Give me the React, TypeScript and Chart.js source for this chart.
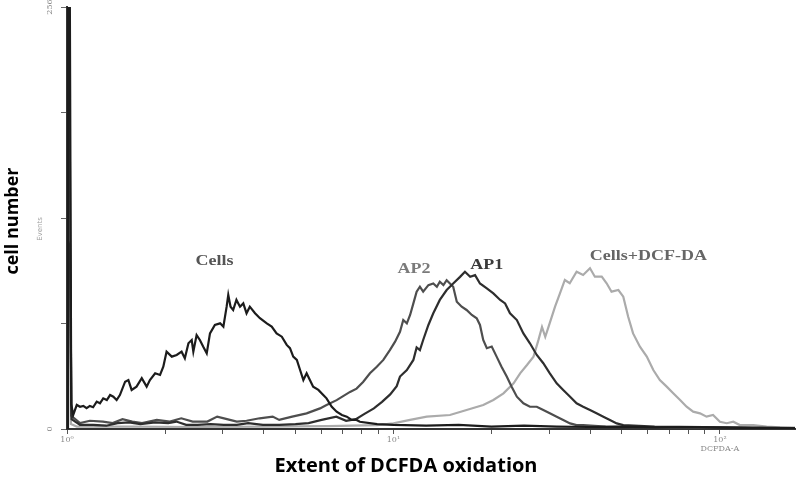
import React, { useEffect, useRef } from "react";
import { Chart, registerables } from "chart.js";

Chart.register(...registerables);

// x values are log10 of DCFDA fluorescence (decades), y values are cell counts
const cellsData: [number, number][] = [
  [0, 0], [0.003, 300], [0.008, 300], [0.013, 15], [0.019, 8.5], [0.03, 14.6], [0.04, 13.5], [0.05, 14], [0.06, 12.6],
  [0.07, 14], [0.08, 13.2], [0.091, 16.6], [0.101, 15.6], [0.111, 18.6], [0.122, 17.6], [0.132, 20.6], [0.142, 19.6],
  [0.152, 17.6], [0.162, 20.6], [0.178, 28.7], [0.188, 29.7], [0.198, 23.7], [0.213, 25.7], [0.229, 30.8], [0.244, 25.7],
  [0.254, 29.7], [0.27, 33.8], [0.285, 32.8], [0.295, 37.8], [0.305, 46.9], [0.321, 43.9], [0.336, 44.9], [0.351, 46.9],
  [0.361, 42.9], [0.372, 52], [0.382, 54], [0.387, 46.9], [0.397, 57], [0.407, 54], [0.417, 50], [0.428, 45.9],
  [0.438, 58], [0.453, 63.1], [0.469, 64.1], [0.479, 62.1], [0.489, 74.2], [0.494, 81.3], [0.501, 74.2], [0.509, 72.2],
  [0.519, 78.3], [0.53, 74.2], [0.54, 76.2], [0.55, 70.2], [0.56, 74.2], [0.576, 70.2], [0.591, 67.2], [0.612, 64.1],
  [0.627, 62.1], [0.642, 58], [0.658, 56], [0.673, 51], [0.683, 49], [0.693, 43.9], [0.704, 41.9], [0.714, 35.8],
  [0.724, 29.7], [0.734, 33.8], [0.744, 29.7], [0.754, 25.7], [0.77, 23.7], [0.785, 20.6], [0.795, 18.6], [0.811, 13.5],
  [0.826, 10.5], [0.842, 8.5], [0.857, 7.5], [0.872, 5.5], [0.887, 5.5], [0.897, 4.4], [0.95, 3], [1.0, 2.5], [1.1, 2],
  [1.2, 2.5], [1.3, 1.5], [1.4, 2], [1.5, 1.5], [1.6, 1.2], [1.7, 1.5], [1.8, 1], [1.9, 1.2], [2.0, 0.8], [2.1, 0.6], [2.23, 0.5],
];

const ap1Data: [number, number][] = [
  [0, 0], [0.002, 115], [0.009, 110], [0.014, 6], [0.04, 2.5], [0.08, 2.5], [0.12, 2], [0.155, 3.6], [0.19, 4], [0.225, 3],
  [0.27, 4], [0.31, 3.6], [0.335, 4.5], [0.365, 2.5], [0.4, 2.5], [0.44, 3], [0.48, 2.5], [0.52, 2.5], [0.555, 3.6],
  [0.6, 2.5], [0.65, 2.5], [0.7, 3], [0.74, 3.6], [0.78, 5.5], [0.825, 7.5], [0.855, 5], [0.885, 6], [0.91, 9],
  [0.94, 12.5], [0.965, 16.5], [0.99, 21], [1.01, 26], [1.02, 31.8], [1.041, 35.8], [1.061, 41.9], [1.071, 49.5],
  [1.081, 47.9], [1.091, 54], [1.107, 63.1], [1.122, 70.2], [1.142, 78.3], [1.163, 84.3], [1.183, 88.3], [1.204, 92.3],
  [1.219, 95.4], [1.235, 92.3], [1.25, 93.3], [1.265, 88.3], [1.286, 85.3], [1.306, 82.3], [1.327, 78.3], [1.342, 76.2],
  [1.357, 70.2], [1.378, 66.1], [1.398, 58], [1.418, 52], [1.439, 44.9], [1.459, 39.9], [1.479, 33.8], [1.5, 27.7],
  [1.52, 23.7], [1.541, 19.6], [1.561, 15.6], [1.581, 13.5], [1.602, 11.5], [1.622, 9.5], [1.643, 7.5], [1.663, 5.5],
  [1.684, 3.4], [1.704, 2.4], [1.8, 1.5], [1.95, 1.2], [2.1, 0.8], [2.23, 0.6],
];

const ap2Data: [number, number][] = [
  [0, 0], [0.002, 210], [0.008, 200], [0.013, 8], [0.04, 3.6], [0.07, 5], [0.11, 4.5], [0.14, 3.6], [0.17, 6], [0.2, 4.5],
  [0.23, 3.6], [0.275, 5.5], [0.315, 4.5], [0.35, 6.5], [0.385, 4.5], [0.43, 4.5], [0.46, 7.5], [0.49, 6], [0.52, 4.5],
  [0.55, 5], [0.59, 6.5], [0.63, 7.5], [0.65, 5.5], [0.69, 7.5], [0.734, 9.5], [0.775, 12.5], [0.795, 14.5], [0.826, 17.5],
  [0.867, 22.5], [0.887, 24.5], [0.907, 28.5], [0.928, 33.8], [0.949, 37.8], [0.969, 41.9], [0.989, 47.9], [1.005, 53],
  [1.02, 59], [1.03, 66.1], [1.041, 64.1], [1.051, 69.2], [1.061, 76.2], [1.071, 83.3], [1.081, 86.3], [1.091, 83.3],
  [1.107, 87.3], [1.122, 88.3], [1.133, 86.3], [1.142, 89.3], [1.153, 87.3], [1.163, 90.3], [1.173, 88.3], [1.183, 86.3],
  [1.194, 77.2], [1.209, 74.2], [1.224, 72.2], [1.24, 69.2], [1.255, 67.2], [1.265, 63.1], [1.275, 54], [1.286, 49],
  [1.301, 50], [1.316, 43.9], [1.331, 37.8], [1.347, 31.8], [1.362, 25.7], [1.378, 19.6], [1.398, 15.6], [1.418, 13.5],
  [1.439, 13.5], [1.459, 11.5], [1.479, 9.5], [1.5, 7.5], [1.52, 5.5], [1.541, 3.4], [1.561, 2.4], [1.581, 2.4],
  [1.65, 1.5], [1.8, 1], [2.0, 0.8], [2.23, 0.5],
];

const cellsDcfData: [number, number][] = [
  [0, 0], [0.002, 140], [0.007, 130], [0.012, 3], [0.03, 1.5], [0.2, 1.5], [0.4, 1.2], [0.6, 1.5], [0.8, 1.8], [0.95, 2.4],
  [1.0, 3.4], [1.051, 5.5], [1.102, 7.5], [1.173, 8.5], [1.224, 11.5], [1.275, 14.6], [1.306, 17.6], [1.337, 21.6],
  [1.368, 27.7], [1.388, 33.8], [1.409, 38.8], [1.429, 43.9], [1.444, 53.9], [1.455, 61.9], [1.465, 55.9], [1.475, 61.9],
  [1.495, 74.2], [1.51, 82.3], [1.525, 90.4], [1.54, 88.4], [1.561, 95.4], [1.581, 93.4], [1.602, 97.5], [1.617, 92.4],
  [1.638, 92.4], [1.653, 88.4], [1.668, 83.3], [1.689, 84.3], [1.704, 80.3], [1.719, 68.1], [1.734, 58], [1.755, 49.9],
  [1.776, 43.9], [1.796, 35.8], [1.816, 29.7], [1.837, 25.7], [1.857, 21.7], [1.878, 17.6], [1.898, 13.5], [1.918, 10.5],
  [1.939, 9.5], [1.959, 7.5], [1.979, 8.5], [2.0, 4.4], [2.021, 3.5], [2.041, 4.4], [2.061, 2.4], [2.102, 2.4],
  [2.143, 1.4], [2.184, 1], [2.23, 0.8],
];

const seriesNames = ["Cells", "AP1", "AP2", "Cells+DCF-DA"];
const seriesColors = ["#1c1c1c", "#2e2e2e", "#4e4e4e", "#ababab"];
const labelX = [0.452, 1.286, 1.063, 1.781];
const labelY = [102, 99.5, 97, 105];
const labelColors = ["#555555", "#3a3a3a", "#7a7a7a", "#666666"];

const xMajorDecades = [0, 1, 2];
const xMajorLabels = ["10\u2070", "10\u00b9", "10\u00b2"];
const xMinorMultipliers = [2, 3, 4, 5, 6, 7, 8, 9];
const xUnitLabel = "DCFDA-A";
const yTicks = [0, 64, 128, 192, 256];
const yShownTicks = [0, 256];
const yUnitLabel = "Events";
const xTitle = "Extent of DCFDA oxidation";
const yTitle = "cell number";

export default function App() {
  const ref = useRef<HTMLCanvasElement | null>(null);
  useEffect(() => {
    if (!ref.current) return;
    const tickValues: number[] = [];
    xMajorDecades.forEach((d, i) => {
      tickValues.push(d);
      if (i < xMajorDecades.length - 1) xMinorMultipliers.forEach((m) => tickValues.push(d + Math.log10(m)));
    });
    const datasets = [cellsData, ap1Data, ap2Data, cellsDcfData].map((arr, i) => ({
      label: seriesNames[i],
      data: arr.map(([x, y]) => ({ x, y })),
      borderColor: seriesColors[i],
      borderWidth: 2.2,
      pointRadius: 0,
      fill: false,
      tension: 0,
    }));
    const textPlugin = {
      id: "texts",
      afterDraw(chart: any) {
        const ctx = chart.ctx as CanvasRenderingContext2D;
        const xs = chart.scales.x;
        const ys = chart.scales.y;
        ctx.save();
        // y tick labels (rotated, tiny)
        ctx.fillStyle = "#8a8a8a";
        ctx.font = "8px 'DejaVu Serif'";
        ctx.textAlign = "center";
        ctx.textBaseline = "middle";
        yShownTicks.forEach((v) => {
          ctx.save();
          ctx.translate(xs.left - 17, ys.getPixelForValue(v));
          ctx.rotate(-Math.PI / 2);
          ctx.fillText(String(v), 0, 0);
          ctx.restore();
        });
        ctx.save();
        ctx.font = "7px 'DejaVu Sans'";
        ctx.fillStyle = "#a0a0a0";
        ctx.translate(xs.left - 27, (ys.top + ys.bottom) / 2 + 11);
        ctx.rotate(-Math.PI / 2);
        ctx.fillText(yUnitLabel, 0, 0);
        ctx.restore();
        // curve labels
        seriesNames.forEach((name, i) => {
          ctx.save();
          ctx.font = "bold 15px 'Liberation Serif'";
          ctx.fillStyle = labelColors[i];
          ctx.translate(xs.getPixelForValue(labelX[i]), ys.getPixelForValue(labelY[i]));
          ctx.scale(1.2, 1);
          ctx.fillText(name, 0, 0);
          ctx.restore();
        });
        // axis titles
        ctx.fillStyle = "#000";
        ctx.font = "bold 20px 'Open Sans'";
        ctx.fillText(xTitle, 406, 466);
        ctx.save();
        ctx.font = "bold 18px 'Open Sans'";
        ctx.translate(13, 221);
        ctx.rotate(-Math.PI / 2);
        ctx.fillText(yTitle, 0, 0);
        ctx.restore();
        ctx.restore();
      },
    };
    const chart = new Chart(ref.current, {
      type: "line",
      data: { datasets },
      plugins: [textPlugin],
      options: {
        animation: false,
        responsive: false,
        devicePixelRatio: 1,
        layout: { padding: { top: 7, right: 1, left: 0, bottom: 0 } },
        plugins: { legend: { display: false }, tooltip: { enabled: false } },
        scales: {
          x: {
            type: "linear",
            min: 0,
            max: 2.23,
            afterBuildTicks: (scale: any) => {
              scale.ticks = tickValues.map((v) => ({ value: v }));
            },
            afterFit: (scale: any) => {
              scale.height = 48;
            },
            border: { display: true, color: "#333", width: 2 },
            grid: { display: true, drawOnChartArea: false, drawTicks: true, tickLength: 5, color: "#555" },
            ticks: {
              autoSkip: false,
              maxRotation: 0,
              minRotation: 0,
              padding: 1,
              color: "#8a8a8a",
              font: { size: 8, family: "'DejaVu Serif'" },
              callback: (v: any) => {
                const idx = xMajorDecades.findIndex((d) => Math.abs(d - Number(v)) < 1e-6);
                if (idx < 0) return "";
                if (idx === xMajorDecades.length - 1) return [xMajorLabels[idx], xUnitLabel];
                return xMajorLabels[idx];
              },
            },
          },
          y: {
            type: "linear",
            min: 0,
            max: 256,
            afterBuildTicks: (scale: any) => {
              scale.ticks = yTicks.map((v) => ({ value: v }));
            },
            afterFit: (scale: any) => {
              scale.width = 67;
            },
            border: { display: true, color: "#333", width: 2 },
            grid: { display: true, drawOnChartArea: false, drawTicks: true, tickLength: 6, color: "#666" },
            ticks: { display: false },
          },
        },
      },
    } as any);
    return () => chart.destroy();
  }, []);
  return (
    <div style={{ position: "fixed", left: 0, top: 0, width: 796, height: 477, background: "#fff" }}>
      <canvas ref={ref} width={796} height={477} style={{ display: "block" }} />
    </div>
  );
}
